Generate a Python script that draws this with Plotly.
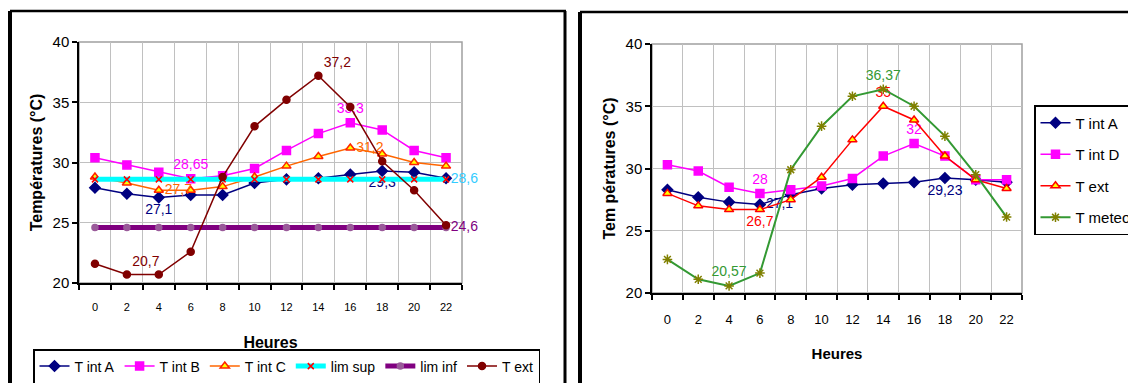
import plotly.graph_objects as go

# ---------------- data ----------------
hours = ["0", "2", "4", "6", "8", "10", "12", "14", "16", "18", "20", "22"]

# left chart
l_int_a = [27.9, 27.4, 27.1, 27.3, 27.3, 28.3, 28.6, 28.7, 29.0, 29.3, 29.2, 28.7]
l_int_b = [30.4, 29.8, 29.2, 28.65, 28.9, 29.5, 31.0, 32.4, 33.3, 32.7, 31.0, 30.4]
l_int_c = [28.8, 28.3, 27.7, 27.7, 28.0, 28.8, 29.7, 30.5, 31.2, 30.7, 30.0, 29.7]
l_lim_sup = [28.6] * 12
l_lim_inf = [24.6] * 12
l_ext = [21.6, 20.7, 20.7, 22.6, 28.8, 33.0, 35.2, 37.2, 34.6, 30.1, 27.7, 24.8]

# right chart
r_int_a = [28.3, 27.7, 27.3, 27.1, 27.9, 28.4, 28.7, 28.8, 28.9, 29.23, 29.1, 28.9]
r_int_d = [30.3, 29.8, 28.5, 28.0, 28.3, 28.6, 29.2, 31.0, 32.0, 31.0, 29.1, 29.1]
r_ext = [28.0, 27.0, 26.7, 26.7, 27.5, 29.3, 32.3, 35.0, 33.9, 31.0, 29.1, 28.4]
r_meteo = [22.7, 21.1, 20.57, 21.6, 29.9, 33.4, 35.8, 36.37, 35.0, 32.6, 29.5, 26.1]

y_ticks = [20, 25, 30, 35, 40]

NARROW = "Liberation Sans Narrow, Arial Narrow, Liberation Sans, Arial, sans-serif"
SANS = "Liberation Sans, Arial, sans-serif"
W, H = 1128, 383


def fmt(v):
    return f"{v:g}".replace(".", ",")


def labels(values, spec):
    text = [""] * len(values)
    pos = ["top center"] * len(values)
    for i, p in spec.items():
        text[i] = fmt(values[i])
        pos[i] = p
    return text, pos


fig = go.Figure()


def add(x_axis, y_axis, legend, name, y, color, lw, symbol, msize, mcolor, mline, lab, tcolor, group=None):
    text, pos = labels(y, lab)
    fig.add_trace(go.Scatter(
        x=hours, y=y, name=name, xaxis=x_axis, yaxis=y_axis, legend=legend,
        legendgroup=group,
        mode="lines+markers+text", text=text, textposition=pos,
        textfont=dict(family=NARROW, size=14, color=tcolor),
        line=dict(color=color, width=lw),
        marker=dict(symbol=symbol, size=msize, color=mcolor,
                    line=dict(color=mline, width=1.5)),
        cliponaxis=False,
    ))


# left chart traces
add("x", "y", "legend", "T int A", l_int_a, "#000080", 1.5, "diamond", 8, "#000080", "#000080",
    {2: "bottom center", 9: "bottom center"}, "#000080")
add("x", "y", "legend", "T int B", l_int_b, "#ff00ff", 1.5, "square", 8, "#ff00ff", "#ff00ff",
    {3: "top center", 8: "top center"}, "#ff00ff")
add("x", "y", "legend", "T int C", l_int_c, "#ff6600", 1.5, "triangle-up", 8, "#ffff00", "#ff2200",
    {2: "middle right", 8: "middle right"}, "#ff6600")
add("x", "y", "legend", "lim sup", l_lim_sup, "#00ffff", 5, "x-thin-open", 6, "#ff0000", "#ff0000",
    {11: "middle right"}, "#33ccff")
add("x", "y", "legend", "lim inf", l_lim_inf, "#800080", 5, "circle", 6, "#9a5a9a", "#9a5a9a",
    {11: "middle right"}, "#800080")
add("x", "y", "legend", "T ext", l_ext, "#800000", 1.5, "circle", 7, "#800000", "#800000",
    {1: "top right", 7: "top right"}, "#800000")

# right chart traces
add("x2", "y2", "legend2", "T int A", r_int_a, "#000080", 1.5, "diamond", 8, "#000080", "#000080",
    {3: "middle right", 9: "bottom center"}, "#000080", "rA")
add("x2", "y2", "legend2", "T int D", r_int_d, "#ff00ff", 1.5, "square", 8, "#ff00ff", "#ff00ff",
    {3: "top center", 8: "top center"}, "#ff00ff", "rD")
add("x2", "y2", "legend2", "T ext", r_ext, "#ff0000", 1.5, "triangle-up", 8, "#ffff00", "#ff0000",
    {3: "bottom center", 7: "top center"}, "#ff0000", "rE")
add("x2", "y2", "legend2", "T meteo", r_meteo, "#339933", 2, "asterisk-open", 8, "#808000", "#808000",
    {2: "top center", 7: "top center"}, "#339933", "rM")

grid = "#c0c0c0"


def xax(domain, anchor, fsize, standoff, tsize, tstand):
    return dict(domain=domain, anchor=anchor, type="category", range=[-0.5, 11.5],
                tickson="boundaries", showgrid=True, gridcolor=grid, gridwidth=1,
                showline=True, linecolor="black", linewidth=1.5,
                ticks="outside", ticklen=5, tickcolor="black", tickwidth=1.5,
                tickfont=dict(family=NARROW, size=fsize, color="black"),
                ticklabelstandoff=standoff, zeroline=False,
                title=dict(text="<b>Heures</b>", font=dict(family=SANS, size=tsize, color="black"),
                           standoff=tstand))


def yax(domain, anchor, title, tstand):
    return dict(domain=domain, anchor=anchor, range=[20, 40], tickvals=y_ticks,
                showgrid=True, gridcolor=grid, gridwidth=1,
                showline=True, linecolor="black", linewidth=1.5,
                ticks="outside", ticklen=5, tickcolor="black", tickwidth=1.5,
                tickfont=dict(family=NARROW, size=15, color="black"), zeroline=False,
                title=dict(text=title, font=dict(family=SANS, size=16, color="black"),
                           standoff=tstand))


fig.update_layout(
    width=W, height=H, margin=dict(l=0, r=0, t=0, b=0, autoexpand=False),
    paper_bgcolor="white", plot_bgcolor="white",
    xaxis=xax([79 / W, 462 / W], "y", 11, 13, 16, 25),
    yaxis=yax([1 - 283 / H, 1 - 42 / H], "x", "<b>Températures (°C)</b>", 6),
    xaxis2=xax([652 / W, 1022 / W], "y2", 13, 14, 15, 22),
    yaxis2=yax([1 - 293 / H, 1 - 44 / H], "x2", "<b>Tem pératures (°C)</b>", 6),
    legend=dict(orientation="h", x=33 / W, y=1 - 349 / H, xanchor="left", yanchor="top",
                bordercolor="black", borderwidth=1.5, bgcolor="white",
                font=dict(family=NARROW, size=14, color="black"), itemwidth=30),
    legend2=dict(orientation="v", x=1034 / W, y=1 - 105 / H, xanchor="left", yanchor="top",
                 bordercolor="black", borderwidth=1.5, bgcolor="white", tracegroupgap=9,
                 font=dict(family=NARROW, size=15, color="black"), itemwidth=30),
    showlegend=True,
)

# plot-area borders (grey) and outer frames (black)
shapes = []
for xr, yr in (("x domain", "y domain"), ("x2 domain", "y2 domain")):
    shapes.append(dict(type="rect", xref=xr, yref=yr, x0=0, x1=1, y0=0, y1=1,
                       line=dict(color="#a0a0a0", width=1.5), layer="below"))
frames = [
    (10, 10, 11, 400, 4), (10, 566, 11, 11, 2.5), (565, 565, 11, 400, 3),
    (580, 580, 12, 400, 4), (580, 1200, 12, 12, 2.5),
]
for x0, x1, y0, y1, w in frames:
    shapes.append(dict(type="line", xref="paper", yref="paper",
                       x0=x0 / W, x1=x1 / W, y0=1 - y0 / H, y1=1 - y1 / H,
                       line=dict(color="black", width=w)))
fig.update_layout(shapes=shapes)

fig.write_html("out.html")
